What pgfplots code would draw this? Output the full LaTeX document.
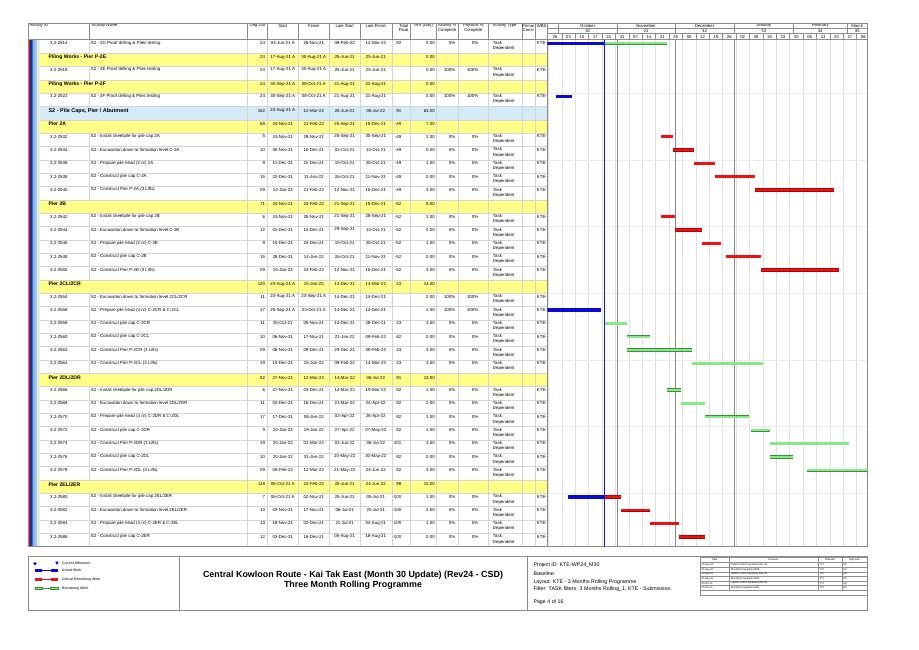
\documentclass[border=0pt]{standalone}
\usepackage{pgfplots}
\pgfplotsset{compat=1.18}
\usepackage{fontspec}
\setmainfont{Liberation Sans}

\definecolor{grpyel}{HTML}{FFFF88}
\definecolor{grpblu}{HTML}{D6EBF7}
\definecolor{actblue}{HTML}{0A0AD2}
\definecolor{critred}{HTML}{EE1111}
\definecolor{critedge}{HTML}{B00000}
\definecolor{remgreen}{HTML}{86E886}
\definecolor{remedge}{HTML}{3A8F3A}
\definecolor{ddline}{HTML}{1414E6}
\definecolor{rowline}{HTML}{D4D4D4}
\definecolor{hdrline}{HTML}{8C8C8C}
\definecolor{wbsa}{HTML}{2E1F5E}
\definecolor{wbsb}{HTML}{C8102E}
\definecolor{wbsc}{HTML}{1C2F8C}
\definecolor{wbsd}{HTML}{3F6FD1}
\definecolor{wbse}{HTML}{7FB2E5}
\definecolor{wbsf}{HTML}{B0C4DE}
\definecolor{wbsg}{HTML}{D4ECF4}
\definecolor{wbsh}{HTML}{F6F6B0}

% bars: x = days from 26-Sep-21, y = row number, nan = gap between bars
\pgfplotstableread[row sep=\\]{
x y\\
-114 1\\ 29.2 1\\ nan nan\\
4 5\\ 12.5 5\\ nan nan\\
-1 21\\ 27.5 21\\ nan nan\\
10 35\\ 29.2 35\\
}\actual
\pgfplotstableread[row sep=\\]{
x y\\
59 8\\ 65 8\\ nan nan\\
65 9\\ 76 9\\ nan nan\\
76 10\\ 87 10\\ nan nan\\
87 11\\ 108 11\\ nan nan\\
108 12\\ 149 12\\ nan nan\\
59 14\\ 66 14\\ nan nan\\
66 15\\ 80 15\\ nan nan\\
80 16\\ 90 16\\ nan nan\\
93 17\\ 111 17\\ nan nan\\
111 18\\ 152 18\\ nan nan\\
29.2 35\\ 38 35\\ nan nan\\
38 36\\ 53 36\\ nan nan\\
53 37\\ 68 37\\ nan nan\\
68 38\\ 82 38\\
}\critical
\pgfplotstableread[row sep=\\]{
x y\\
29.2 1\\ 62 1\\ nan nan\\
29.2 22\\ 41 22\\ nan nan\\
41 23\\ 53 23\\ nan nan\\
41 24\\ 75 24\\ nan nan\\
75 25\\ 112 25\\ nan nan\\
62 27\\ 69 27\\ nan nan\\
69 28\\ 82 28\\ nan nan\\
82 29\\ 105 29\\ nan nan\\
106 30\\ 116 30\\ nan nan\\
116 31\\ 157 31\\ nan nan\\
116 32\\ 128 32\\ nan nan\\
135 33\\ 168 33\\
}\remaining

\newcommand\fs{\fontsize{4.4}{5}\selectfont}
\newcommand\fh{\fontsize{4.2}{4.8}\selectfont}
\newcommand\rtop[1]{39.7+(#1-1)*13.342}
\newcommand\ly[1]{39.7+(#1-1)*13.342+3.4}
\newcommand\gy[1]{39.7+(#1-1)*13.342+4.3}

% activity row: k, id, name, dur, start, finish, late start, late finish, float, then TRA, act %, phys %
\newcommand\arow[9]{%
  \draw[rowline] (89.3,{\rtop{#1}}) -- (89.3,{\rtop{#1}+13.342});
  \node[anchor=west] at (50,{\ly{#1}}) {#2};
  \node[anchor=west] at (90.7,{\ly{#1}}) {#3};
  \node[anchor=east] at (265.3,{\ly{#1}}) {#4};
  \node at (282.8,{\ly{#1}}) {#5};
  \node at (313.8,{\ly{#1}}) {#6};
  \node at (344.7,{\ly{#1}}) {#7};
  \node at (375.8,{\ly{#1}}) {#8};
  \node[anchor=east] at (401.5,{\ly{#1}}) {#9};
  \node[anchor=west] at (492.7,{\ly{#1}-0.4}) {Task};
  \node[anchor=west] at (492.7,{\ly{#1}+5.2}) {Dependent};
  \node[anchor=west] at (536.7,{\ly{#1}}) {KTE-};
  \arowrest{#1}}
\newcommand\arowrest[4]{%
  \node[anchor=east] at (435,{\ly{#1}}) {#2};
  \node[anchor=east] at (455.5,{\ly{#1}}) {#3};
  \node[anchor=east] at (478.5,{\ly{#1}}) {#4};}
% group row: k, name, dur, start, finish, late start, late finish, float, TRA
\newcommand\grow[9]{%
  \node[anchor=west, font=\fontsize{5.1}{6}\selectfont\bfseries] at (48.3,{\gy{#1}}) {#2};
  \node[anchor=east] at (265.3,{\gy{#1}}) {#3};
  \node at (282.8,{\gy{#1}}) {#4};
  \node at (313.8,{\gy{#1}}) {#5};
  \node at (344.7,{\gy{#1}}) {#6};
  \node at (375.8,{\gy{#1}}) {#7};
  \node[anchor=east] at (401.5,{\gy{#1}}) {#8};
  \node[anchor=east] at (435,{\gy{#1}}) {#9};}

\begin{document}
\begin{tikzpicture}
\begin{scope}[shift={(0pt,650pt)}, x=1pt, y=-1pt,
  every node/.style={inner sep=0pt, font=\fs}]
\fill[white] (0,0) rectangle (919,650);

% group row fills
\foreach \k in {2,4,7,13,19,26,34}
  \fill[grpyel] (40,{\rtop{\k}}) rectangle (547.3,{\rtop{\k}+13.342});
\fill[grpblu] (39,{\rtop{6}}) rectangle (547.3,{\rtop{6}+13.342});

% WBS indent stripes
\fill[wbsa] (28.3,39.7) rectangle (29.4,546.7);
\fill[wbsb] (29.4,39.7) rectangle (30.4,546.7);
\fill[wbsc] (30.4,39.7) rectangle (31.8,546.7);
\fill[wbsd] (31.8,39.7) rectangle (33.2,546.7);
\fill[wbse] (33.2,39.7) rectangle (34.8,546.7);
\fill[wbsf] (34.8,39.7) rectangle (36.6,546.7);
\fill[wbsg] (36.6,39.7) rectangle (38.6,546.7);
\fill[wbsh] (38.6,39.7) rectangle (40,546.7);

% table grid
\foreach \k in {1,...,37}
  \draw[rowline] (40,{\rtop{\k}+13.342}) -- (547.3,{\rtop{\k}+13.342});
\foreach \x in {246.7,267.3,298.3,329.3,360,391.7,410,436,458.3,488.3,521.7,535}
  \draw[rowline] (\x,39.7) -- (\x,546.7);
\foreach \x in {89.3,246.7,267.3,298.3,329.3,360,391.7,410,436,458.3,488.3,521.7,535}
  \draw[hdrline] (\x,23) -- (\x,39.7);

% gantt grid
\foreach \i in {0,...,23}
  \draw[black!12] ({548.45+13.398*\i},39.7) -- ({548.45+13.398*\i},546.7);
\foreach \m in {0,...,6}
  \draw[black!8] (547.3,{39.7+13.342*(4+5*\m)}) -- (867.7,{39.7+13.342*(4+5*\m)});
\foreach \x in {617.3,674.8,734.1}
  \draw[black!45] (\x,39.7) -- (\x,546.7);

% gantt header
\draw[hdrline] (547.3,28.7) -- (867.7,28.7);
\draw[hdrline] (547.3,33.7) -- (867.7,33.7);
\foreach \x in {558.0,617.3,674.8,734.1,793.4,847.0}
  \draw[hdrline] (\x,23) -- (\x,33.7);
\foreach \i in {1,...,23}
  \draw[hdrline] ({548.45+13.398*\i},33.7) -- ({548.45+13.398*\i},39.7);
\begin{scope}[every node/.style={inner sep=0pt, font=\fh}]
\foreach \x/\t/\n in {587.7/October/30, 646.0/November/31, 704.5/December/32,
    763.8/January/33, 820.2/February/34, 857.3/March/35} {
  \node at (\x,25.9) {\t};
  \node at (\x,31.2) {\n};
}
\foreach \t [count=\i from 0] in {26,03,10,17,24,31,07,14,21,28,05,12,19,26,02,09,16,23,30,06,13,20,27,06}
  \node at ({555.15+13.398*\i},36.8) {\t};

% column headers
\node[anchor=west] at (29.3,25.8) {Activity ID};
\node[anchor=west] at (91.7,25.8) {Activity Name};
\node at (257.5,25.8) {Orig Dur};
\node at (282.8,25.8) {Start};
\node at (313.8,25.8) {Finish};
\node at (344.7,25.8) {Late Start};
\node at (375.8,25.8) {Late Finish};
\node[anchor=east] at (408.5,25.8) {Total};
\node[anchor=east] at (408.5,30.4) {Float};
\node at (423,25.8) {TRA (Day)};
\node at (447.2,25.8) {Activity \%};
\node at (447.2,30.4) {Complete};
\node at (473.3,25.8) {Physical \%};
\node at (473.3,30.4) {Complete};
\node[anchor=west] at (492.7,25.8) {Activity Type};
\node at (528.3,25.8) {Primar};
\node at (528.3,30.4) {Const};
\node[anchor=west] at (536.7,25.8) {WBS};
\end{scope}

% rows
\arow{1}{3.2-2514}{S2 - 2D Proof drilling \& Piles testing}{24}{04-Jun-21 A}{26-Nov-21}{08-Feb-22}{12-Mar-22}{82}{0.00}{0\%}{0\%}
\grow{2}{Piling Works - Pier P-2E}{24}{17-Aug-21 A}{30-Aug-21 A}{25-Jun-21}{25-Jun-21}{}{0.00}
\arow{3}{3.2-2518}{S2 - 2E Proof drilling \& Piles testing}{24}{17-Aug-21 A}{30-Aug-21 A}{25-Jun-21}{25-Jun-21}{}{0.00}{100\%}{100\%}
\grow{4}{Piling Works - Pier P-2F}{24}{30-Sep-21 A}{08-Oct-21 A}{21-Aug-21}{21-Aug-21}{}{0.00}
\arow{5}{3.2-2522}{S2 - 2F Proof drilling \& Piles testing}{24}{30-Sep-21 A}{08-Oct-21 A}{21-Aug-21}{21-Aug-21}{}{0.00}{100\%}{100\%}
\grow{6}{\fontsize{5.5}{6}\selectfont S2 - Pile Caps, Pier / Abutment}{162}{23-Aug-21 A}{12-Mar-22}{25-Jun-21}{06-Jul-22}{91}{63.00}
\grow{7}{Pier 2A}{68}{24-Nov-21}{21-Feb-22}{25-Sep-21}{15-Dec-21}{-49}{7.00}
\arow{8}{3.2-2532}{S2 - Install sheetpile for pile cap 2A}{5}{24-Nov-21}{29-Nov-21}{25-Sep-21}{30-Sep-21}{-49}{1.00}{0\%}{0\%}
\arow{9}{3.2-2534}{S2 - Excavation down to formation level C-2A}{10}{30-Nov-21}{10-Dec-21}{02-Oct-21}{13-Oct-21}{-49}{0.00}{0\%}{0\%}
\arow{10}{3.2-2536}{S2 - Prepare pile head (2 nr) 2A}{9}{11-Dec-21}{21-Dec-21}{15-Oct-21}{25-Oct-21}{-49}{1.00}{0\%}{0\%}
\arow{11}{3.2-2538}{S2 - Construct pile cap C-2A}{15}{22-Dec-21}{11-Jan-22}{26-Oct-21}{11-Nov-21}{-49}{2.00}{0\%}{0\%}
\arow{12}{3.2-2540}{S2 - Construct Pier P-2A (3 Lifts)}{29}{12-Jan-22}{21-Feb-22}{12-Nov-21}{15-Dec-21}{-49}{3.00}{0\%}{0\%}
\grow{13}{Pier 2B}{71}{24-Nov-21}{24-Feb-22}{21-Sep-21}{15-Dec-21}{-52}{9.00}
\arow{14}{3.2-2542}{S2 - Install sheetpile for pile cap 2B}{6}{24-Nov-21}{30-Nov-21}{21-Sep-21}{28-Sep-21}{-52}{1.00}{0\%}{0\%}
\arow{15}{3.2-2544}{S2 - Excavation down to formation level C-2B}{12}{01-Dec-21}{14-Dec-21}{29-Sep-21}{13-Oct-21}{-52}{2.00}{0\%}{0\%}
\arow{16}{3.2-2546}{S2 - Prepare pile head (2 nr) C-2B}{9}{15-Dec-21}{24-Dec-21}{15-Oct-21}{25-Oct-21}{-52}{1.00}{0\%}{0\%}
\arow{17}{3.2-2548}{S2 - Construct pile cap C-2B}{15}{28-Dec-21}{14-Jan-22}{26-Oct-21}{11-Nov-21}{-52}{2.00}{0\%}{0\%}
\arow{18}{3.2-2550}{S2 - Construct Pier P-2B (3 Lifts)}{29}{15-Jan-22}{24-Feb-22}{12-Nov-21}{15-Dec-21}{-52}{3.00}{0\%}{0\%}
\grow{19}{Pier 2CL/2CR}{120}{23-Aug-21 A}{15-Jan-22}{14-Dec-21}{14-Mar-22}{43}{14.00}
\arow{20}{3.2-2554}{S2 - Excavation down to formation level 2CL/2CR}{11}{23-Aug-21 A}{23-Sep-21 A}{14-Dec-21}{14-Dec-21}{}{2.00}{100\%}{100\%}
\arow{21}{3.2-2556}{S2 - Prepare pile head (4 nr) C-2CR \& C-2CL}{17}{25-Sep-21 A}{23-Oct-21 A}{14-Dec-21}{14-Dec-21}{}{1.00}{100\%}{100\%}
\arow{22}{3.2-2558}{S2 - Construct pile cap C-2CR}{11}{25-Oct-21}{05-Nov-21}{14-Dec-21}{28-Dec-21}{43}{3.00}{0\%}{0\%}
\arow{23}{3.2-2560}{S2 - Construct pile cap C-2CL}{10}{06-Nov-21}{17-Nov-21}{21-Jan-22}{08-Feb-22}{62}{2.00}{0\%}{0\%}
\arow{24}{3.2-2562}{S2 - Construct Pier P-2CR (3 Lifts)}{29}{06-Nov-21}{09-Dec-21}{29-Dec-21}{08-Feb-22}{43}{3.00}{0\%}{0\%}
\arow{25}{3.2-2564}{S2 - Construct Pier P-2CL (3 Lifts)}{29}{10-Dec-21}{15-Jan-22}{09-Feb-22}{14-Mar-22}{43}{3.00}{0\%}{0\%}
\grow{26}{Pier 2DL/2DR}{82}{27-Nov-21}{12-Mar-22}{14-Mar-22}{06-Jul-22}{91}{13.00}
\arow{27}{3.2-2566}{S2 - Install sheetpile for pile cap 2DL/2DR}{6}{27-Nov-21}{03-Dec-21}{14-Mar-22}{19-Mar-22}{82}{1.00}{0\%}{0\%}
\arow{28}{3.2-2568}{S2 - Excavation down to formation level 2DL/2DR}{11}{04-Dec-21}{16-Dec-21}{21-Mar-22}{01-Apr-22}{82}{2.00}{0\%}{0\%}
\arow{29}{3.2-2570}{S2 - Prepare pile head (4 nr) C-2DR \& C-2DL}{17}{17-Dec-21}{08-Jan-22}{02-Apr-22}{26-Apr-22}{82}{1.00}{0\%}{0\%}
\arow{30}{3.2-2572}{S2 - Construct pile cap C-2DR}{9}{10-Jan-22}{19-Jan-22}{27-Apr-22}{07-May-22}{82}{1.00}{0\%}{0\%}
\arow{31}{3.2-2574}{S2 - Construct Pier P-2DR (3 Lifts)}{29}{20-Jan-22}{01-Mar-22}{01-Jun-22}{06-Jul-22}{101}{3.00}{0\%}{0\%}
\arow{32}{3.2-2576}{S2 - Construct pile cap C-2DL}{10}{20-Jan-22}{31-Jan-22}{10-May-22}{20-May-22}{82}{2.00}{0\%}{0\%}
\arow{33}{3.2-2578}{S2 - Construct Pier P-2DL (3 Lifts)}{29}{08-Feb-22}{12-Mar-22}{21-May-22}{24-Jun-22}{82}{3.00}{0\%}{0\%}
\grow{34}{Pier 2EL/2ER}{118}{06-Oct-21 A}{22-Feb-22}{25-Jun-21}{24-Jun-22}{98}{13.00}
\arow{35}{3.2-2580}{S2 - Install sheetpile for pile cap 2EL/2ER}{7}{06-Oct-21 A}{02-Nov-21}{25-Jun-21}{05-Jul-21}{-100}{1.00}{0\%}{0\%}
\arow{36}{3.2-2582}{S2 - Excavation down to formation level 2EL/2ER}{13}{03-Nov-21}{17-Nov-21}{06-Jul-21}{20-Jul-21}{-100}{2.00}{0\%}{0\%}
\arow{37}{3.2-2584}{S2 - Prepare pile head (3 nr) C-2ER \& C-2EL}{13}{18-Nov-21}{02-Dec-21}{21-Jul-21}{04-Aug-21}{-100}{1.00}{0\%}{0\%}
\arow{38}{3.2-2586}{S2 - Construct pile cap C-2ER}{12}{03-Dec-21}{16-Dec-21}{05-Aug-21}{18-Aug-21}{-100}{2.00}{0\%}{0\%}

% outer frame
\draw[hdrline, line width=0.5pt] (28.3,23) rectangle (867.7,546.7);
\draw[hdrline, line width=0.5pt] (28.3,39.7) -- (867.7,39.7);
\draw[hdrline, line width=0.5pt] (547.3,23) -- (547.3,546.7);

% footer
\draw[hdrline, line width=0.5pt] (28.3,556) rectangle (867.7,610);
\draw[hdrline, line width=0.5pt] (179,556) -- (179,610);
\draw[hdrline, line width=0.5pt] (527.3,556) -- (527.3,610);

% legend
\fill[actblue] (35,561.9) -- (36.8,563.7) -- (35,565.5) -- (33.2,563.7) -- cycle;
\fill[actblue] (55.2,561.6) -- (58.8,561.6) -- (57,565) -- cycle;
\fill[actblue] (35,569.3) rectangle (41.7,572.1);
\draw[actblue, line width=0.6pt] (41.7,570.7) -- (50.5,570.7);
\fill[actblue] (50.5,569.3) rectangle (58.3,572.1);
\fill[critred] (35,577.9) rectangle (41.7,580.7);
\draw[critred, line width=0.6pt] (41.7,579.3) -- (50.5,579.3);
\fill[critred] (50.5,577.9) rectangle (58.3,580.7);
\filldraw[fill=remgreen, draw=remedge, line width=0.4pt] (35,586.9) rectangle (41.7,589.7);
\draw[remedge, line width=0.6pt] (41.7,588.3) -- (50.5,588.3);
\filldraw[fill=remgreen, draw=remedge, line width=0.4pt] (50.5,586.9) rectangle (58.3,589.7);
\begin{scope}[every node/.style={inner sep=0pt, anchor=west, font=\fontsize{3.6}{4}\selectfont}]
\node at (61.7,563.3) {Current Milestone};
\node at (61.7,570.7) {Actual Work};
\node at (61.7,579.3) {Critical Remaining Work};
\node at (61.7,588.3) {Remaining Work};
\end{scope}

% title
\node[font=\fontsize{8.9}{10}\selectfont\bfseries] at (353,575) {Central Kowloon Route - Kai Tak East (Month 30 Update) (Rev24 - CSD)};
\node[font=\fontsize{8.9}{10}\selectfont\bfseries] at (353,585.6) {Three Month Rolling Programme};

% project info
\begin{scope}[every node/.style={inner sep=0pt, anchor=west, font=\fontsize{5.3}{6}\selectfont}]
\node at (533.3,565) {Project ID: KTE-WP24\_M30};
\node at (533.3,573.6) {Baseline:};
\node at (533.3,582.2) {Layout: KTE - 3 Months Rolling Programme};
\node at (533.3,589.3) {Filter: TASK filters: 3 Months Rolling\_1, KTE - Submission.};
\node at (533.3,601.7) {Page 4 of 16};
\end{scope}

% revision table
\draw[hdrline, line width=0.3pt] (700,557.3) rectangle (866.7,595);
\foreach \y in {562.5,567.1,571.7,576.3,580.9,585.5,590.1}
  \draw[hdrline, line width=0.3pt] (700,\y) -- (866.7,\y);
\foreach \x in {729.3,817.7,841.7}
  \draw[hdrline, line width=0.3pt] (\x,557.3) -- (\x,590.1);
\begin{scope}[every node/.style={inner sep=0pt, font=\fontsize{2.5}{3}\selectfont}]
\node at (714.6,559.9) {Date};
\node at (773.5,559.9) {Revision};
\node at (829.7,559.9) {Checked};
\node at (854.2,559.9) {Approved};
\foreach \d/\r [count=\j from 0] in {20-Aug-21/Submit CSD Programme Rev 22, 25-Aug-21/Monthly Programme M28,
    20-Sep-21/Submit CSD Programme Rev 23, 25-Sep-21/Monthly Programme M29,
    20-Oct-21/Submit CSD Programme Rev 24, 25-Oct-21/Monthly Programme M30} {
  \node[anchor=west] at (701.5,{564.8+4.6*\j}) {\d};
  \node[anchor=west] at (731,{564.8+4.6*\j}) {\r};
  \node[anchor=west] at (819.3,{564.8+4.6*\j}) {TYY};
  \node[anchor=west] at (843.3,{564.8+4.6*\j}) {DC};
}
\end{scope}
\end{scope}

\begin{axis}[
  at={(547.3pt,103.3pt)}, anchor=south west,
  scale only axis, width=320.4pt, height=507pt,
  xmin=-0.6, xmax=166.8,
  ymin=0.734, ymax=38.734, y dir=reverse,
  hide axis,
  unbounded coords=jump,
]
\addplot[actblue, line width=3.3pt] table[x=x, y=y] {\actual};
\addplot[critedge, line width=3.3pt] table[x=x, y=y] {\critical};
\addplot[critred, line width=2.5pt] table[x=x, y=y] {\critical};
\addplot[remedge, line width=3.3pt] table[x=x, y=y] {\remaining};
\addplot[remgreen, line width=2.4pt] table[x=x, y=y] {\remaining};
\addplot[ddline, line width=1pt] coordinates {(29.2,0.734) (29.2,38.734)};
\end{axis}
\end{tikzpicture}
\end{document}
